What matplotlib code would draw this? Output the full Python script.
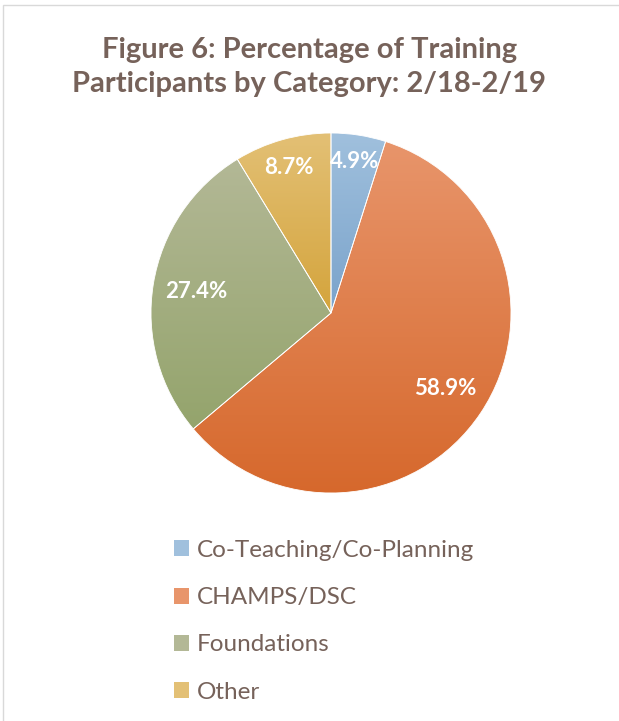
import numpy as np
import matplotlib

matplotlib.use("Agg")
import matplotlib.pyplot as plt
from matplotlib.colors import LinearSegmentedColormap
from matplotlib.patches import Rectangle

categories = ["Co-Teaching/Co-Planning", "CHAMPS/DSC", "Foundations", "Other"]
percents = [4.9, 58.9, 27.4, 8.7]
label_dist = [0.85, 0.76, 0.76, 0.84]
# (top colour, bottom colour) of each slice's gradient fill
grad_colors = [
    ("#A0C0DD", "#7AA3CB"),
    ("#E8956B", "#D6682C"),
    ("#B3B896", "#94A46C"),
    ("#E3C075", "#D4A43C"),
]

TEXT = "#76625A"
W, H = 619, 721

plt.rcParams["font.family"] = ["Lato", "DejaVu Sans"]
fig = plt.figure(figsize=(W / 100, H / 100), dpi=100)

# light chart border (top & left visible)
fig.patches.append(Rectangle((3 / W, -0.1), 1.2, 1.1 - 5 / H, transform=fig.transFigure,
                             fill=False, edgecolor="#D9D9D9", linewidth=1.0))

cx, cy, r = 331, 313, 180
ax = fig.add_axes([(cx - r) / W, (H - cy - r) / H, 2 * r / W, 2 * r / H])
wedges, _ = ax.pie(percents, startangle=90, counterclock=False, radius=1.0,
                   wedgeprops=dict(edgecolor="white", linewidth=0.6))
ax.set_aspect("equal")
ax.axis("off")

grad = np.linspace(0, 1, 256).reshape(-1, 1)
for w, (top, bot) in zip(wedges, grad_colors):
    w.set_facecolor("none")
    verts = w.get_path().vertices
    xs = verts[:, 0] * w.r + w.center[0]
    ys = verts[:, 1] * w.r + w.center[1]
    cmap = LinearSegmentedColormap.from_list("g", [top, bot])
    im = ax.imshow(grad, cmap=cmap, aspect="auto", origin="upper",
                   extent=[xs.min(), xs.max(), ys.min(), ys.max()], zorder=0.5)
    im.set_clip_path(w)

# percentage labels
cum = 0.0
for pct, dist in zip(percents, label_dist):
    mid = np.deg2rad(90 - (cum + pct / 2) * 3.6)
    cum += pct
    ax.text(dist * np.cos(mid), dist * np.sin(mid), f"{pct:.1f}%", ha="center", va="center",
            color="white", fontsize=16, fontweight="bold", zorder=3)
ax.set_xlim(-1, 1)
ax.set_ylim(-1, 1)

fig.text(0.5, 1 - 67 / H, "Figure 6: Percentage of Training\nParticipants by Category: 2/18-2/19",
         ha="center", va="center", fontsize=21, fontweight="bold", color=TEXT, linespacing=1.35)

handles = [Rectangle((0, 0), 1, 1, facecolor=c[0]) for c in grad_colors]
leg = fig.legend(handles, categories, loc="upper left", bbox_to_anchor=(152 / W, 1 - 518 / H),
                 frameon=False, fontsize=17.5, labelcolor=TEXT, handlelength=0.63, handleheight=0.63,
                 handletextpad=0.3, labelspacing=1.08)

fig.savefig("out.png", dpi=100)
